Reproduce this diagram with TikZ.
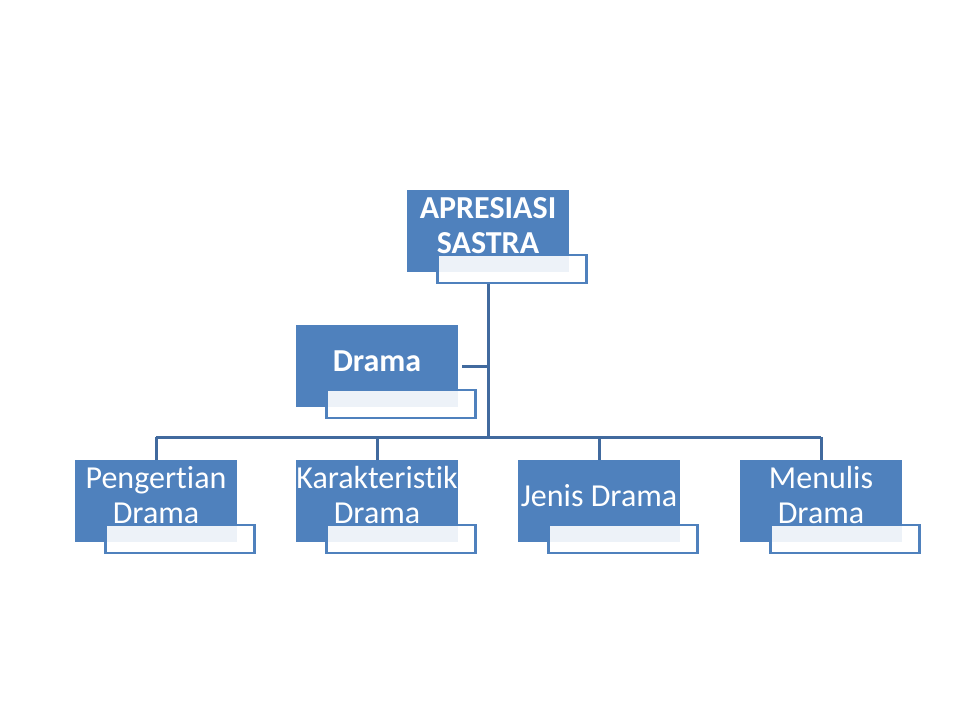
\documentclass[tikz,border=0pt]{standalone}
\usepackage{fontspec}
\setmainfont{Carlito}[Ligatures=NoCommon]
\usetikzlibrary{positioning}
\definecolor{boxblue}{RGB}{79,129,189}
\definecolor{linkblue}{RGB}{65,106,158}

\begin{document}
\begin{tikzpicture}[x=1pt, y=-1pt,
    bluebox/.style={fill=boxblue, minimum width=162pt, minimum height=82pt, inner sep=0pt},
    lblbox/.style={draw=boxblue, line width=2.5pt, fill=white, fill opacity=0.9, minimum width=149pt, minimum height=28pt, inner sep=0pt},
    boxtext/.style={text=white, font=\fontsize{32}{35}\selectfont, align=center, inner sep=0pt},
    link/.style={draw=linkblue, line width=3pt}]
    \useasboundingbox (0,0) rectangle (960,720);
    % boxes
    \node [bluebox] (apr) at (488,231) {};
    \node [bluebox] (drama) at (377,366) {};
    \node [bluebox] (pen) at (156,501) {};
    \node [bluebox] (kar) at (377,501) {};
    \node [bluebox] (jen) at (599,501) {};
    \node [bluebox] (men) at (821,501) {};
    % text boxes
    \node [lblbox] (aprlbl) at ([xshift=24pt, yshift=-38pt]apr.center) {};
    \node [lblbox] (dramalbl) at ([xshift=24pt, yshift=-38pt]drama.center) {};
    \node [lblbox] (penlbl) at ([xshift=24pt, yshift=-38pt]pen.center) {};
    \node [lblbox] (karlbl) at ([xshift=24pt, yshift=-38pt]kar.center) {};
    \node [lblbox] (jenlbl) at ([xshift=24pt, yshift=-38pt]jen.center) {};
    \node [lblbox] (menlbl) at ([xshift=24pt, yshift=-38pt]men.center) {};
    % labels
    \node [boxtext, font=\fontsize{32}{35}\selectfont\bfseries] (aprtxt) at ([yshift=5pt]apr.center) {APRESIASI\\SASTRA};
    \node [boxtext, font=\fontsize{32}{35}\selectfont\bfseries] (dramatxt) at ([yshift=5pt]drama.center) {Drama};
    \node [boxtext] (pentxt) at ([yshift=6pt]pen.center) {Pengertian\\Drama};
    \node [boxtext] (kartxt) at ([yshift=6pt]kar.center) {Karakteristik\\Drama};
    \node [boxtext] (jentxt) at ([yshift=5pt]jen.center) {Jenis Drama};
    \node [boxtext] (mentxt) at ([yshift=6pt]men.center) {Menulis\\Drama};
    % connectors
    \coordinate (hub) at (488,437);
    \draw [link] (apr.center |- aprlbl.south) -- (hub);
    \draw [link] ([xshift=4pt]drama.east) -- (drama.east -| hub);
    \draw [link] (pen.north |- hub) -- (men.north |- hub);
    \foreach \n in {pen, kar, jen, men}
        \draw [link] (\n.north |- hub) -- (\n.north);
\end{tikzpicture}
\end{document}
